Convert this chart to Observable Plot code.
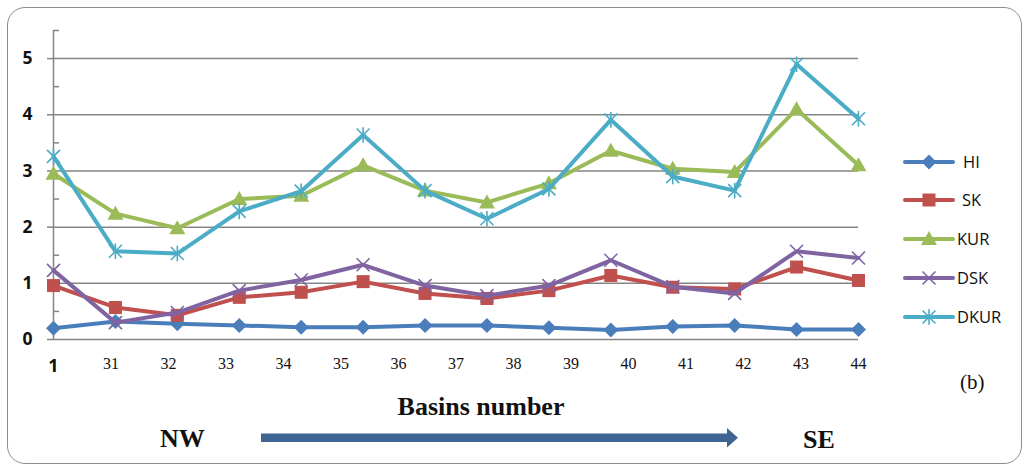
<!DOCTYPE html>
<html>
<head>
<meta charset="utf-8">
<script src="https://cdn.jsdelivr.net/npm/d3@7"></script>
<script src="https://cdn.jsdelivr.net/npm/@observablehq/plot@0.6"></script>
<style>
  html, body { margin: 0; padding: 0; background: #fff; }
  #wrap { position: relative; width: 1029px; height: 472px; overflow: hidden; }
  #border { position: absolute; left: 7px; top: 7px; width: 1015px; height: 457px; border: 1.2px solid #8c8c8c; border-radius: 18px; box-sizing: border-box; }
  #chart { position: absolute; left: 0; top: 0; }
</style>
</head>
<body>
<div id="wrap">
  <div id="border"></div>
  <div id="chart"></div>
  <svg id="annot" style="position:absolute; left:0; top:0;" width="1029" height="472"></svg>
  <svg id="legend" width="129" height="472" style="position:absolute; left:900px; top:0;"></svg>
</div>
<script>
// ---- data ----
const labels = ["1","31","32","33","34","35","36","37","38","39","40","41","42","43","44"];
const seriesNames = ["HI","SK","KUR","DSK","DKUR"];
const colors = ["#4A7EBB","#C0504D","#9BBB59","#8064A2","#4BACC6"];
const HI   = [0.20,0.32,0.28,0.25,0.22,0.22,0.25,0.25,0.21,0.17,0.23,0.25,0.18,0.18];
const SK   = [0.96,0.57,0.43,0.75,0.84,1.03,0.82,0.73,0.87,1.14,0.93,0.90,1.29,1.05];
const KUR  = [2.95,2.24,1.98,2.50,2.56,3.10,2.65,2.44,2.78,3.36,3.04,2.98,4.10,3.10];
const DSK  = [1.23,0.30,0.48,0.87,1.06,1.33,0.96,0.78,0.96,1.41,0.94,0.82,1.57,1.45];
const DKUR = [3.26,1.57,1.53,2.28,2.64,3.64,2.65,2.15,2.68,3.91,2.90,2.65,4.90,3.93];
const yMajor = [0,1,2,3,4,5];
const yMinor = [0.5,1.5,2.5,3.5,4.5,5.5];

const values = [HI, SK, KUR, DSK, DKUR];
const nPts = HI.length;
const labelPos = labels.map((_, i) => i * (nPts - 1) / (labels.length - 1));

// ---- symbols ----
const R = s => Math.sqrt(s / Math.PI);
const diamondSym = {draw(c, s){ const r = R(s); c.moveTo(0,-r); c.lineTo(r,0); c.lineTo(0,r); c.lineTo(-r,0); c.closePath(); }};
const squareSym  = {draw(c, s){ const r = R(s); c.rect(-r,-r,2*r,2*r); }};
const triSym     = {draw(c, s){ const r = R(s); c.moveTo(0,-r); c.lineTo(r, r*0.75); c.lineTo(-r, r*0.75); c.closePath(); }};
const timesSym   = {draw(c, s){ const r = R(s); c.moveTo(-r,-r); c.lineTo(r,r); c.moveTo(r,-r); c.lineTo(-r,r); }};
const starSym    = {draw(c, s){ const r = R(s); c.moveTo(-r,-r); c.lineTo(r,r); c.moveTo(r,-r); c.lineTo(-r,r); c.moveTo(0,-r*1.2); c.lineTo(0,r*1.2); }};
const symSpecs = [
  {sym: diamondSym, r: 7.5, filled: true},
  {sym: squareSym,  r: 6.5, filled: true},
  {sym: triSym,     r: 8,   filled: true},
  {sym: timesSym,   r: 6.5, filled: false},
  {sym: starSym,    r: 6.5, filled: false}
];

const seriesMarks = [];
values.forEach((arr, k) => {
  const data = arr.map((v, i) => ({i, v}));
  seriesMarks.push(Plot.line(data, {x: "i", y: "v", stroke: colors[k], strokeWidth: 4, strokeLinejoin: "round"}));
  const sp = symSpecs[k];
  seriesMarks.push(Plot.dot(data, sp.filled
    ? {x: "i", y: "v", symbol: sp.sym, r: sp.r, fill: colors[k], stroke: "none"}
    : {x: "i", y: "v", symbol: sp.sym, r: sp.r, fill: "none", stroke: colors[k], strokeWidth: 1.6}));
});

const chart = Plot.plot({
  width: 1029, height: 472,
  marginLeft: 53, marginRight: 171, marginTop: 30, marginBottom: 133,
  x: {type: "linear", domain: [0, nPts - 1]},
  y: {domain: [0, 5.5]},
  style: {background: "transparent"},
  marks: [
    Plot.ruleY([1,2,3,4,5], {stroke: "#858585", strokeWidth: 1.5}),
    Plot.ruleY([0], {stroke: "#858585", strokeWidth: 1.5}),
    Plot.ruleX([0], {stroke: "#858585", strokeWidth: 1.5}),
    Plot.axisY({ticks: yMajor, tickSize: 6, tickPadding: 15, stroke: "#858585", strokeWidth: 1.5,
      tickFormat: d => String(d),
      fontFamily: "Open Sans, sans-serif", fontWeight: "bold", fontSize: 17.5, fill: "#111", label: null}),
    Plot.axisY({ticks: yMinor, tickSize: -6, stroke: "#858585", strokeWidth: 1.5, tickFormat: () => "", label: null}),
    Plot.axisX({ticks: [labelPos[0]], tickSize: 0, tickPadding: 20, tickFormat: () => labels[0],
      fontFamily: "Open Sans, sans-serif", fontWeight: "bold", fontSize: 18, fill: "#111", label: null}),
    Plot.axisX({ticks: labelPos.slice(1), tickSize: 0, tickPadding: 18,
      tickFormat: d => labels[labelPos.indexOf(d)],
      fontFamily: "Liberation Serif, serif", fontSize: 16, fill: "#111", label: null}),
    ...seriesMarks
  ]
});
document.getElementById("chart").appendChild(chart);

// ---- annotations ----
const an = d3.select("#annot");
const serif = "Liberation Serif, DejaVu Serif, serif";
an.append("text").attr("x", 481).attr("y", 415).attr("text-anchor", "middle").text("Basins number")
  .attr("font-family", serif).attr("font-weight", "bold").attr("font-size", 26).attr("fill", "#111");
an.append("text").attr("x", 160).attr("y", 447).text("NW")
  .attr("font-family", serif).attr("font-weight", "bold").attr("font-size", 26).attr("fill", "#111");
an.append("text").attr("x", 803).attr("y", 448).text("SE")
  .attr("font-family", serif).attr("font-weight", "bold").attr("font-size", 26).attr("fill", "#111");
an.append("text").attr("x", 960).attr("y", 389).text("(b)")
  .attr("font-family", serif).attr("font-size", 21).attr("fill", "#111");
an.append("rect").attr("x", 261).attr("y", 433.5).attr("width", 468).attr("height", 8.5).attr("fill", "#3E6592");
an.append("path").attr("d", "M727,428 L738,437.75 L727,447.5 Z").attr("fill", "#3E6592");

// ---- legend ----
const lg = d3.select("#legend");
const legendY = [162, 200, 239, 278, 317];
const legendTextX = [63, 62, 57, 57, 57];
seriesNames.forEach((name, k) => {
  const g = lg.append("g").attr("transform", `translate(0,${legendY[k]})`);
  g.append("line").attr("x1", 5).attr("x2", 53).attr("y1", 0).attr("y2", 0)
    .attr("stroke", colors[k]).attr("stroke-width", 4).attr("stroke-linecap", "round");
  const sp = symSpecs[k];
  const p = d3.path();
  sp.sym.draw(p, Math.PI * sp.r * sp.r);
  g.append("path").attr("transform", "translate(29,0)").attr("d", p.toString())
    .attr("fill", sp.filled ? colors[k] : "none")
    .attr("stroke", sp.filled ? "none" : colors[k]).attr("stroke-width", 1.6);
  g.append("text").attr("x", legendTextX[k]).attr("y", 6).text(name)
    .attr("font-family", "Open Sans, Noto Sans, sans-serif").attr("font-size", 16.5).attr("fill", "#111");
});
</script>
</body>
</html>
